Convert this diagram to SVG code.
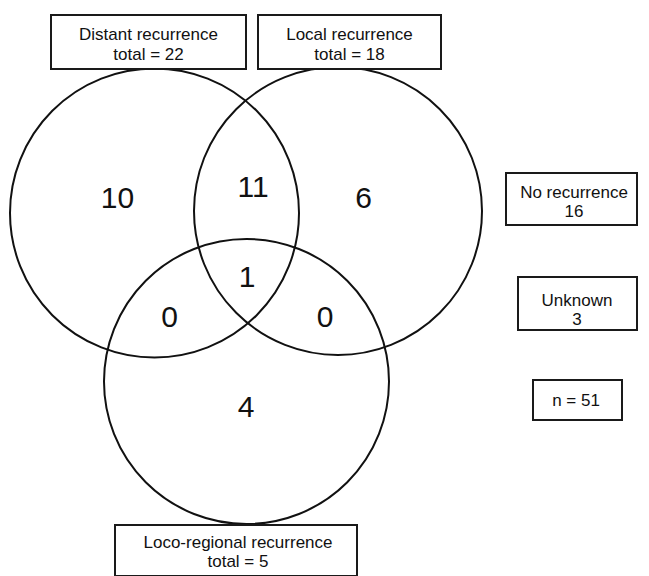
<svg xmlns="http://www.w3.org/2000/svg" width="649" height="576" viewBox="0 0 649 576">
<style>
.c{fill:none;stroke:#111;stroke-width:2}
.b{fill:#fff;stroke:#1a1a1a;stroke-width:2}
.t{font-family:"Liberation Sans",Arial,sans-serif;font-size:17px;fill:#111;text-anchor:middle}
.n{font-family:"Liberation Sans",Arial,sans-serif;font-size:30px;fill:#111;text-anchor:middle}
</style>
<rect width="649" height="576" fill="#fff"/>
<g id="circles">
<circle id="distant" class="c" cx="154.5" cy="213" r="144.5"/>
<circle id="local" class="c" cx="338" cy="211" r="144"/>
<circle id="locoregional" class="c" cx="246.5" cy="381.5" r="142.5"/>
</g>
<g id="counts">
<text class="n" x="117.5" y="208">10</text>
<text class="n" x="253" y="197">11</text>
<text class="n" x="363.5" y="208">6</text>
<text class="n" x="247" y="287">1</text>
<text class="n" x="169.5" y="327">0</text>
<text class="n" x="325" y="327">0</text>
<text class="n" x="246" y="417">4</text>
</g>
<g id="box-distant">
<rect class="b" x="51" y="15" width="195" height="54"/>
<text class="t" x="148.5" y="40">Distant recurrence</text>
<text class="t" x="148.5" y="60">total = 22</text>
</g>
<g id="box-local">
<rect class="b" x="258" y="15" width="183" height="54"/>
<text class="t" x="349.5" y="40">Local recurrence</text>
<text class="t" x="349.5" y="60">total = 18</text>
</g>
<g id="box-norec">
<rect class="b" x="506" y="173" width="131" height="52"/>
<text class="t" x="574" y="198">No recurrence</text>
<text class="t" x="574" y="217">16</text>
</g>
<g id="box-unknown">
<rect class="b" x="518" y="277" width="119" height="53"/>
<text class="t" x="577" y="306">Unknown</text>
<text class="t" x="577" y="325">3</text>
</g>
<g id="box-n">
<rect class="b" x="533" y="380" width="89" height="40"/>
<text class="t" x="576" y="406">n = 51</text>
</g>
<g id="box-loco">
<rect class="b" x="115" y="525" width="242" height="51"/>
<text class="t" x="238" y="548">Loco-regional recurrence</text>
<text class="t" x="238" y="567">total = 5</text>
</g>
<g id="connectors"></g>
</svg>
